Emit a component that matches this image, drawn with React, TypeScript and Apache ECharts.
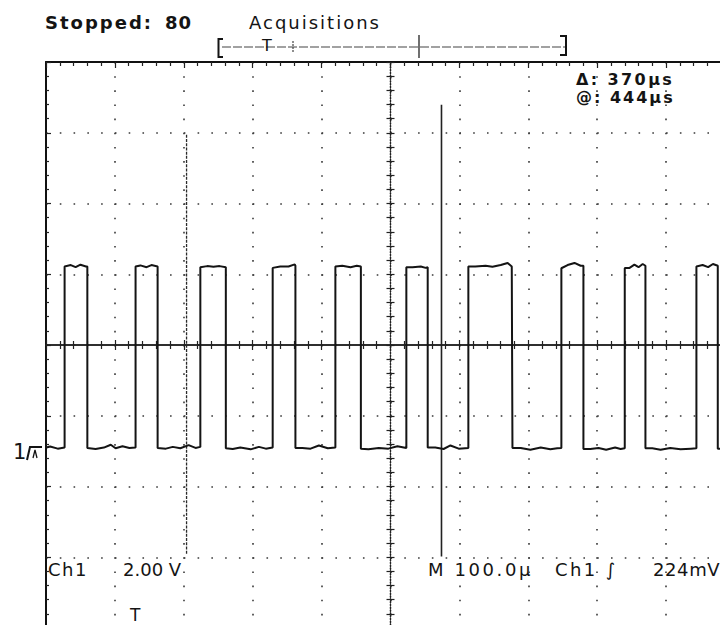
import React, { useEffect, useRef } from 'react';
import * as echarts from 'echarts';

// Screen geometry in data units: 10 horizontal divisions of 100 µs, 8 vertical divisions of 2 V
const SCREEN_TIME_US = [-500, 500];
const TIME_PER_DIV_US = 100;
const SCREEN_VOLTS = [-8, 8];
const VOLTS_PER_DIV = 2;
// trigger point (screen time) and channel-1 ground reference (screen volts)
const TRIGGER_SCREEN_US = -370;
const GROUND_SCREEN_V = -2.88;

// Channel 1 waveform vertices: [time relative to trigger (µs), volts relative to ground]
const waveform: [number, number][] = [
  [-132, -0.03], [-124, 0.01], [-113, -0.05], [-103, -0.02],
  [-103, 5.10], [-94, 5.14], [-87, 5.08], [-80, 5.15], [-72, 5.10], [-70, 5.10],
  [-70, -0.03], [-58, -0.06], [-46, -0.02], [-36, 0.06], [-29, -0.04], [-19, 0.02], [-9, -0.03], [0, -0.02],
  [0, 5.10], [7, 5.13], [16, 5.08], [23, 5.14], [32, 5.10],
  [32, -0.03], [44, -0.05], [54, 0.00], [65, -0.04], [77, 0.05], [87, -0.03], [94, 0.00],
  [94, 5.08], [104, 5.11], [113, 5.09], [122, 5.11], [131, 5.08],
  [131, -0.04], [141, -0.06], [152, -0.02], [167, -0.07], [179, 0.00], [189, -0.05], [199, -0.02],
  [199, 5.06], [210, 5.10], [222, 5.10], [231, 5.16], [232, 5.12],
  [232, -0.03], [242, -0.03], [254, -0.05], [266, 0.04], [279, -0.04], [290, -0.02],
  [290, 5.10], [300, 5.12], [312, 5.08], [321, 5.12], [327, 5.10],
  [327, -0.05], [338, -0.07], [353, -0.03], [367, -0.05], [380, 0.02], [393, -0.03],
  [393, 5.08], [402, 5.08], [414, 5.10], [421, 5.06], [424, 5.08],
  [424, -0.02], [435, -0.02], [447, -0.06], [457, 0.04], [469, -0.05], [483, -0.03],
  [483, 5.10], [493, 5.10], [508, 5.12], [518, 5.09], [530, 5.14], [540, 5.20], [546, 5.10], [547, 5.10],
  [547, -0.03], [559, -0.03], [573, -0.08], [588, -0.02], [602, -0.07], [612, -0.04], [618, -0.03],
  [618, 5.05], [627, 5.14], [637, 5.20], [646, 5.12], [650, 5.12],
  [650, -0.06], [660, -0.06], [672, -0.03], [683, -0.08], [696, -0.02], [704, -0.06], [710, -0.04],
  [710, 5.06], [717, 5.06], [724, 5.15], [730, 5.08], [736, 5.17], [740, 5.12],
  [740, -0.04], [750, -0.04], [762, -0.08], [776, -0.03], [791, -0.07], [806, -0.05], [814, -0.04],
  [814, 5.10], [823, 5.14], [831, 5.08], [838, 5.17], [845, 5.12],
  [845, -0.05], [872, -0.05],
];

// Bar cursors: time relative to trigger (µs) and vertical extent (screen volts)
const cursorTimesUs = [74, 444];
const cursorTopV = [5.94, 6.79];
const cursorBottomV = [-5.93, -5.98];

// Readout texts
const headerTexts = ['Stopped:', '80', 'Acquisitions'];
const cursorTexts = ['\u0394: 370\u00b5s', '@: 444\u00b5s'];
const footerTexts = ['Ch1', '2.00 V', 'M 100.0\u00b5', 'Ch1 \u222b', '224mV'];

const INK = '#141414';
const GRID_INK = '#3a3a3a';

const font = (size: number, weight: string, spacing: number) =>
  `${weight} ${size}px DejaVu Sans;letter-spacing:${spacing}px`;

function txt(text: string, x: number, y: number, f: string, align = 'left') {
  return {
    type: 'text',
    x,
    y,
    silent: true,
    style: { text, font: f, fill: INK, textAlign: align, textVerticalAlign: 'middle' },
  };
}

function axisBase(min: number, max: number, interval: number) {
  return {
    type: 'value',
    min,
    max,
    interval,
    axisLabel: { show: false },
    splitLine: { show: false },
  };
}

export default function App() {
  const ref = useRef<HTMLDivElement>(null);

  useEffect(() => {
    if (!ref.current) return;
    const chart = echarts.init(ref.current, undefined, { renderer: 'svg' });

    const waveData = waveform.map(([t, v]) => [t + TRIGGER_SCREEN_US, v + GROUND_SCREEN_V]);
    const cursorSeries = cursorTimesUs.map((t, i) => ({
      type: 'line',
      xAxisIndex: 0,
      yAxisIndex: 0,
      data: [
        [t + TRIGGER_SCREEN_US, cursorTopV[i]],
        [t + TRIGGER_SCREEN_US, cursorBottomV[i]],
      ],
      showSymbol: false,
      silent: true,
      z: 3,
      lineStyle: i === 0
        ? { color: '#2a2a2a', width: 1.3, type: [3, 1.2] }
        : { color: '#222', width: 1.6, type: 'solid' },
    }));

    const [tMin, tMax] = SCREEN_TIME_US;
    const [vMin, vMax] = SCREEN_VOLTS;
    const tickStyle = { color: '#222', width: 1.2 };

    chart.setOption({
      animation: false,
      backgroundColor: '#ffffff',
      grid: { left: 46, top: 62, width: 689, height: 566, containLabel: false },
      xAxis: [
        {
          ...axisBase(tMin, tMax, TIME_PER_DIV_US),
          position: 'bottom',
          axisLine: { onZero: true, onZeroAxisIndex: 0, lineStyle: { color: '#222', width: 1.6 } },
          axisTick: { show: true, inside: false, length: 5, lineStyle: tickStyle },
          minorTick: { show: true, splitNumber: 5, length: 4, lineStyle: tickStyle },
          splitLine: { show: true, lineStyle: { color: GRID_INK, width: 1.6, type: [1.6, 12.55] } },
        },
        {
          ...axisBase(tMin, tMax, TIME_PER_DIV_US),
          position: 'bottom',
          axisLine: { onZero: true, onZeroAxisIndex: 0, lineStyle: { color: '#222', width: 1.6 } },
          axisTick: { show: true, inside: true, length: 5, lineStyle: tickStyle },
          minorTick: { show: true, splitNumber: 5, length: 4, lineStyle: tickStyle },
        },
        {
          ...axisBase(tMin, tMax, TIME_PER_DIV_US),
          position: 'top',
          axisLine: { onZero: false, lineStyle: { color: '#111', width: 2 } },
          axisTick: { show: true, inside: true, length: 6, lineStyle: tickStyle },
          minorTick: { show: true, splitNumber: 5, length: 4, lineStyle: tickStyle },
        },
      ],
      yAxis: [
        {
          ...axisBase(vMin, vMax, VOLTS_PER_DIV),
          position: 'left',
          axisLine: { onZero: true, onZeroAxisIndex: 0, lineStyle: { color: '#222', width: 1.3, type: [1.2, 1.6] } },
          axisTick: { show: true, inside: false, length: 4, lineStyle: tickStyle },
          minorTick: { show: true, splitNumber: 5, length: 4, lineStyle: tickStyle },
          splitLine: { show: true, lineStyle: { color: GRID_INK, width: 1.6, type: [1.6, 12.18] } },
        },
        {
          ...axisBase(vMin, vMax, VOLTS_PER_DIV),
          position: 'left',
          axisLine: { onZero: true, onZeroAxisIndex: 0, lineStyle: { color: '#222', width: 1.3, type: [1.2, 1.6] } },
          axisTick: { show: true, inside: true, length: 4, lineStyle: tickStyle },
          minorTick: { show: true, splitNumber: 5, length: 4, lineStyle: tickStyle },
        },
        {
          ...axisBase(vMin, vMax, VOLTS_PER_DIV),
          position: 'left',
          axisLine: { onZero: false, lineStyle: { color: '#111', width: 2 } },
          axisTick: { show: true, inside: true, length: 5, lineStyle: tickStyle },
          minorTick: { show: true, splitNumber: 5, length: 3, lineStyle: tickStyle },
        },
      ],
      series: [
        {
          type: 'line',
          name: 'Ch1',
          xAxisIndex: 0,
          yAxisIndex: 0,
          data: waveData,
          showSymbol: false,
          silent: true,
          z: 4,
          lineStyle: { color: INK, width: 2 },
        },
        ...cursorSeries,
      ],
      graphic: [
        // header
        txt(headerTexts[0], 45, 22, font(18, 'bold', 2)),
        txt(headerTexts[1], 165, 22, font(18, 'bold', 1)),
        txt(headerTexts[2], 249, 22, font(18, 'normal', 2)),
        // record view bracket
        { type: 'polyline', silent: true, shape: { points: [[223, 39], [218.5, 39], [218.5, 57], [223, 57]] }, style: { stroke: INK, lineWidth: 2, fill: 'none' } },
        { type: 'line', silent: true, shape: { x1: 222, y1: 47, x2: 566, y2: 47 }, style: { stroke: '#444', lineWidth: 1.2, lineDash: [9, 2] } },
        { type: 'line', silent: true, shape: { x1: 293, y1: 41, x2: 293, y2: 53 }, style: { stroke: '#444', lineWidth: 1.2, lineDash: [2, 1] } },
        { type: 'line', silent: true, shape: { x1: 419, y1: 35, x2: 419, y2: 58 }, style: { stroke: '#333', lineWidth: 1.4 } },
        { type: 'polyline', silent: true, shape: { points: [[560, 36], [566, 36], [566, 55], [560, 55]] }, style: { stroke: INK, lineWidth: 2, fill: 'none' } },
        txt('T', 262, 45, font(16, 'normal', 0), 'left'),
        // cursor readouts
        txt(cursorTexts[0], 576, 79, font(16, 'bold', 2.4)),
        txt(cursorTexts[1], 576, 97, font(16, 'bold', 2)),
        // ground marker
        txt('1', 13, 452, font(21, 'normal', 0)),
        { type: 'polyline', silent: true, shape: { points: [[27, 460], [30, 447], [42, 447]] }, style: { stroke: INK, lineWidth: 2, fill: 'none' } },
        { type: 'polyline', silent: true, shape: { points: [[33, 458], [35, 450], [37, 458]] }, style: { stroke: INK, lineWidth: 1.3, fill: 'none' } },
        // footer
        txt(footerTexts[0], 48, 569, font(18, 'normal', 1.5)),
        txt(footerTexts[1], 123, 569, font(18, 'normal', 0)),
        txt(footerTexts[2], 428, 569, font(18, 'normal', 2.6)),
        txt(footerTexts[3], 555, 569, font(18, 'normal', 2.4)),
        txt(footerTexts[4], 653, 569, font(18, 'normal', 0.6)),
        txt('T', 130, 615, font(17, 'normal', 0)),
      ],
    });

    return () => chart.dispose();
  }, []);

  return (
    <div
      ref={ref}
      style={{ position: 'fixed', left: 0, top: 0, width: 740, height: 640, background: '#fff' }}
    />
  );
}
